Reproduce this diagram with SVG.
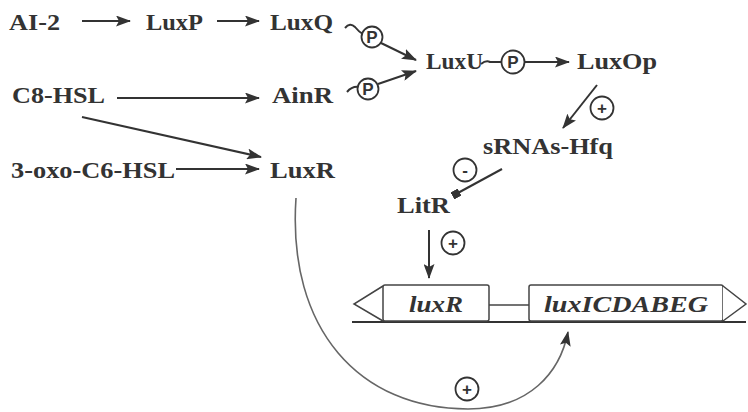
<svg xmlns="http://www.w3.org/2000/svg" width="748" height="412" viewBox="0 0 748 412">
<style>
.t{font-family:"Liberation Serif",serif;font-weight:bold;font-size:24px;fill:#333}
.g{font-family:"Liberation Serif",serif;font-weight:bold;font-style:italic;font-size:24px;fill:#333}
.c{fill:#fff;stroke:#333;stroke-width:1.8}
.ct{font-family:"Liberation Sans",sans-serif;font-size:17px;font-weight:bold;fill:#333;text-anchor:middle}
.l{fill:none;stroke:#333;stroke-width:2}
.box{fill:#fff;stroke:#444;stroke-width:1.5}
</style>
<defs>
<marker id="ah" markerWidth="15" markerHeight="11" refX="14" refY="5.5" orient="auto" markerUnits="userSpaceOnUse">
<path d="M0,0 L15,5.5 L0,11 L3,5.5 Z" fill="#333"/>
</marker>
<marker id="sq" markerWidth="8" markerHeight="8" refX="4" refY="4" orient="auto" markerUnits="userSpaceOnUse">
<rect x="0" y="0" width="8" height="8" fill="#333"/>
</marker>
</defs>
<g id="AI-2"><text class="t" x="9" y="30" textLength="51" lengthAdjust="spacingAndGlyphs">AI-2</text></g>
<g id="LuxP"><text class="t" x="146" y="30" textLength="57" lengthAdjust="spacingAndGlyphs">LuxP</text></g>
<g id="LuxQ"><text class="t" x="270" y="30" textLength="63" lengthAdjust="spacingAndGlyphs">LuxQ</text></g>
<g id="C8-HSL"><text class="t" x="12" y="103" textLength="93" lengthAdjust="spacingAndGlyphs">C8-HSL</text></g>
<g id="AinR"><text class="t" x="272" y="103" textLength="61" lengthAdjust="spacingAndGlyphs">AinR</text></g>
<g id="oxoC6"><text class="t" x="11" y="178" textLength="164" lengthAdjust="spacingAndGlyphs">3-oxo-C6-HSL</text></g>
<g id="LuxR"><text class="t" x="270" y="178" textLength="65" lengthAdjust="spacingAndGlyphs">LuxR</text></g>
<g id="LuxU"><text class="t" x="426" y="69" textLength="57" lengthAdjust="spacingAndGlyphs">LuxU</text></g>
<g id="LuxOp"><text class="t" x="577" y="69" textLength="80" lengthAdjust="spacingAndGlyphs">LuxOp</text></g>
<g id="sRNAs"><text class="t" x="483" y="154" textLength="130" lengthAdjust="spacingAndGlyphs">sRNAs-Hfq</text></g>
<g id="LitR"><text class="t" x="397" y="213" textLength="53" lengthAdjust="spacingAndGlyphs">LitR</text></g>
<g id="genes">
<line x1="352" y1="322" x2="746" y2="322" stroke="#333" stroke-width="2"/>
<path d="M383,286 L354,304 L383,321" class="box"/>
<rect x="383" y="285" width="106" height="36" rx="2" class="box"/>
<line x1="489" y1="305" x2="529" y2="305" stroke="#444" stroke-width="1.5"/>
<rect x="529" y="285" width="194" height="36" rx="2" class="box"/>
<path d="M723,286 L746,304 L723,321" class="box"/>
<text class="g" x="436" y="312" text-anchor="middle" textLength="54" lengthAdjust="spacingAndGlyphs">luxR</text>
<text class="g" x="626" y="312" text-anchor="middle" textLength="164" lengthAdjust="spacingAndGlyphs">luxICDABEG</text>
</g>
<g id="connectors">
<line class="l" x1="82" y1="21" x2="130" y2="21" marker-end="url(#ah)"/>
<line class="l" x1="217" y1="21" x2="259" y2="21" marker-end="url(#ah)"/>
<path class="l" d="M345,28 Q350,22 355,27 Q359,32 363,34"/>
<line class="l" x1="381" y1="43" x2="416" y2="60" marker-end="url(#ah)"/>
<path class="l" d="M347,92 Q352,86 359,87"/>
<line class="l" x1="378" y1="84" x2="416" y2="71" marker-end="url(#ah)"/>
<line class="l" x1="117" y1="98" x2="259" y2="98" marker-end="url(#ah)"/>
<line class="l" x1="82" y1="117" x2="261" y2="157" marker-end="url(#ah)"/>
<line class="l" x1="176" y1="169" x2="259" y2="169" marker-end="url(#ah)"/>
<path class="l" d="M481,64 Q486,60 490,62 L502,62"/>
<line class="l" x1="524" y1="62" x2="569" y2="62" marker-end="url(#ah)"/>
<line class="l" x1="597" y1="85" x2="563" y2="128" marker-end="url(#ah)"/>
<line class="l" x1="502" y1="169" x2="456" y2="194" marker-end="url(#sq)"/>
<line class="l" x1="429" y1="230" x2="429" y2="278" marker-end="url(#ah)"/>
<path d="M296,198 C287,330 360,409 468,409 C530,409 560,372 568,332" fill="none" stroke="#666" stroke-width="1.6" marker-end="url(#ah)"/>
<circle class="c" cx="372" cy="37" r="10.5"/><text class="ct" x="372" y="43">P</text>
<circle class="c" cx="368" cy="89" r="10.5"/><text class="ct" x="368" y="95">P</text>
<circle class="c" cx="513" cy="62" r="11.5"/><text class="ct" x="513" y="68">P</text>
<circle class="c" cx="602" cy="108" r="11.5"/><text class="ct" x="602" y="114">+</text>
<circle class="c" cx="465" cy="170" r="11.5"/><text class="ct" x="465" y="176">-</text>
<circle class="c" cx="453" cy="243" r="11.5"/><text class="ct" x="453" y="249">+</text>
<circle class="c" cx="467" cy="389" r="11.5"/><text class="ct" x="467" y="395">+</text>
</g>
</svg>
